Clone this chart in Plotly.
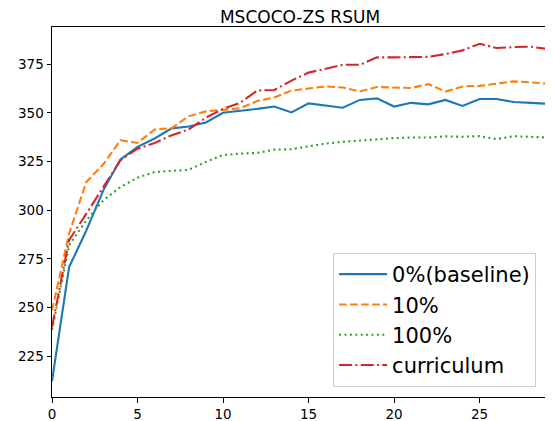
import plotly.graph_objects as go

epochs = list(range(30))
baseline = [212.2, 270.8, 289.5, 310.2, 326.0, 332.5, 336.8, 342.0, 343.0, 345.0,
            350.0, 350.9, 352.0, 353.2, 350.2, 354.8, 353.8, 352.6, 356.6, 357.4,
            353.2, 355.1, 354.3, 356.6, 353.5, 357.1, 357.1, 355.5, 355.1, 354.6]
p10 = [248.6, 288.0, 314.4, 323.6, 335.9, 334.5, 341.4, 342.1, 348.3, 350.7,
       351.5, 352.3, 356.0, 357.8, 361.4, 362.3, 363.5, 363.0, 360.9, 363.2,
       363.0, 362.7, 364.7, 360.9, 363.5, 363.8, 364.9, 366.1, 365.6, 364.9]
p100 = [238.7, 282.0, 294.7, 305.1, 311.9, 316.7, 319.6, 320.1, 320.8, 324.8,
        328.3, 329.0, 329.4, 331.1, 331.3, 332.8, 334.2, 335.1, 335.8, 336.5,
        337.0, 337.3, 337.3, 337.9, 337.7, 338.0, 336.5, 338.0, 337.7, 337.3]
curriculum = [240.0, 284.7, 298.1, 311.9, 325.6, 331.6, 334.5, 338.5, 341.5, 347.5,
              352.0, 355.1, 361.4, 361.7, 366.5, 370.6, 372.5, 374.6, 374.6, 378.4,
              378.4, 378.4, 378.7, 380.1, 382.0, 385.4, 383.2, 383.7, 383.9, 382.7]
names = ["0%(baseline)", "10%", "100%", "curriculum"]
colors = ["#1f77b4", "#ff7f0e", "#2ca02c", "#d62728"]
dashes = ["solid", "7.7px,3.3px", "2px,3.4px", "13px,3.3px,2px,3.3px"]
xticks = [0, 5, 10, 15, 20, 25]
yticks = [225, 250, 275, 300, 325, 350, 375]

fig = go.Figure()
for i, (nm, ys) in enumerate(zip(names, [baseline, p10, p100, curriculum])):
    fig.add_trace(go.Scatter(x=epochs, y=ys, mode="lines", name=nm,
                             legendgroup=str(i),
                             line=dict(color=colors[i], width=2.1, dash=dashes[i])))

axis_common = dict(showgrid=False, zeroline=False, showline=True, linecolor="black",
                   linewidth=1, mirror=True, ticks="outside", ticklen=4.5,
                   tickcolor="black", tickfont=dict(size=13.5, color="black"),
                   automargin=False)
# page body has an 8px margin, so the figure is sized to fit the 553x421 window
fig.update_layout(
    width=545, height=413,
    margin=dict(l=44, r=5, t=19, b=24, autoexpand=False),
    paper_bgcolor="white", plot_bgcolor="white",
    font=dict(family="DejaVu Sans", color="black"),
    title=dict(text="MSCOCO-ZS RSUM", xref="paper", x=0.5, xanchor="center",
               yref="container", y=0.979, yanchor="middle",
               font=dict(size=17, color="black"), automargin=False),
    xaxis=dict(range=[0, 29], tickvals=xticks, **axis_common),
    yaxis=dict(range=[204.2, 394.0], tickvals=yticks, **axis_common),
    legend=dict(x=0.976, y=0.027, xanchor="right", yanchor="bottom",
                font=dict(size=21, color="black"), bgcolor="rgba(255,255,255,0.8)",
                bordercolor="#cccccc", borderwidth=1, tracegroupgap=0,
                itemwidth=48),
    showlegend=True,
)
fig.write_html("out.html")
